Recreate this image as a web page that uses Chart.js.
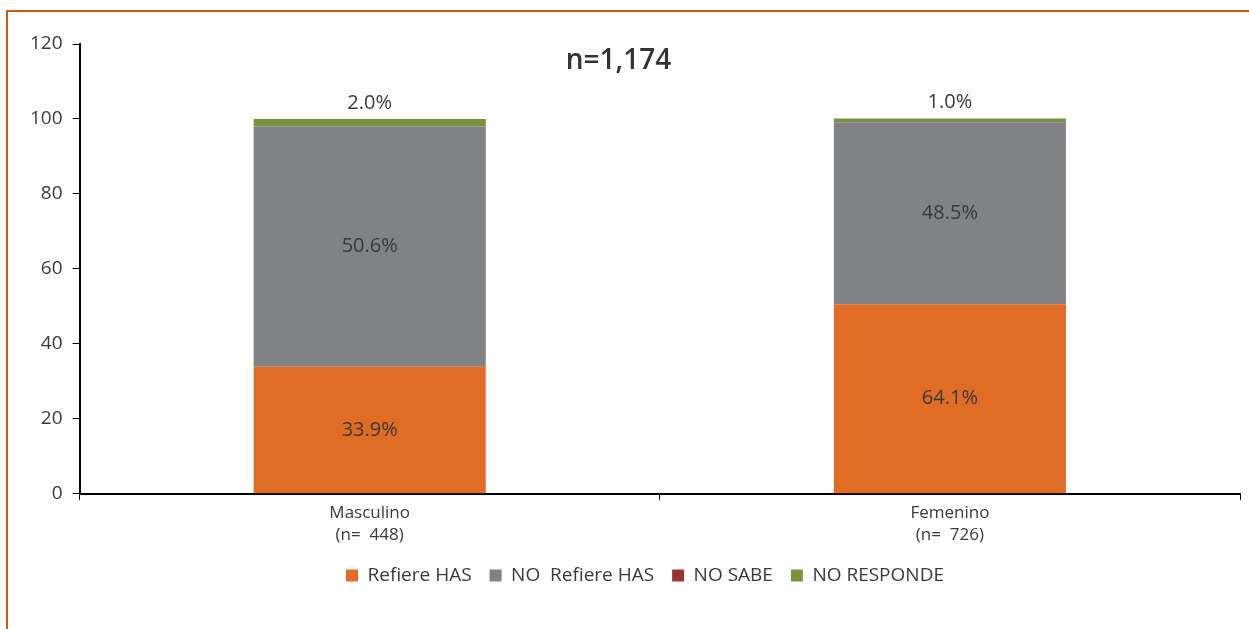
<!DOCTYPE html>
<html>
<head>
<meta charset="utf-8">
<script src="https://cdn.jsdelivr.net/npm/chart.js@4"></script>
<style>
  body { margin: 0; background: #fff; }
  #frame { position: absolute; left: 6px; top: 10px; width: 1260px; height: 640px; border: 2px solid #b8621e; }
  #wrap { position: absolute; left: 0; top: 0; width: 1249px; height: 629px; }
</style>
</head>
<body>
<div id="frame"></div>
<div id="wrap"><canvas id="chart"></canvas></div>
<script>
//categories and series (bar heights)
const categories = [['Masculino', '(n=  448)'], ['Femenino', '(n=  726)']];
const seriesNames = ['Refiere HAS', 'NO  Refiere HAS', 'NO SABE', 'NO RESPONDE'];
const refiere = [33.9, 50.6];
const noRefiere = [64.1, 48.5];
const noSabe = [0, 0];
const noResponde = [2.0, 1.0];
//labels printed on the bars, as they appear in the original
const refiereLabels = ['33.9%', '64.1%'];
const noRefiereLabels = ['50.6%', '48.5%'];
const noSabeLabels = ['', ''];
const noRespondeLabels = ['2.0%', '1.0%'];
const yTicks = [0, 20, 40, 60, 80, 100, 120];
const colours = ['#e06c26', '#818285', '#963634', '#77933c'];

const fontFamily = '"Open Sans", "Noto Sans", sans-serif';
const textColour = '#3a3a3a';

const allValues = [refiere, noRefiere, noSabe, noResponde];
const allLabels = [refiereLabels, noRefiereLabels, noSabeLabels, noRespondeLabels];

//draws the percentage text inside each segment, last series goes above the bar
const barLabels = {
    id: 'barLabels',
    afterDatasetsDraw(chart) {
        const ctx = chart.ctx;
        ctx.save();
        ctx.font = '20px ' + fontFamily;
        ctx.fillStyle = textColour;
        ctx.textAlign = 'center';
        ctx.textBaseline = 'middle';
        chart.data.datasets.forEach(function(ds, i) {
            const meta = chart.getDatasetMeta(i);
            meta.data.forEach(function(bar, j) {
                const text = allLabels[i][j];
                if (!text) return;
                if (i === allLabels.length - 1) {
                    ctx.fillText(text, bar.x, bar.y - 16);
                } else {
                    ctx.fillText(text, bar.x, (bar.y + bar.base) / 2);
                }
            });
        });
        ctx.restore();
    }
};

//title sits inside the plot area in the original
const insideTitle = {
    id: 'insideTitle',
    afterDraw(chart) {
        const ctx = chart.ctx;
        ctx.save();
        ctx.font = '600 28px ' + fontFamily;
        ctx.fillStyle = '#333';
        ctx.textAlign = 'center';
        ctx.textBaseline = 'middle';
        ctx.fillText('n=1,174', chart.width / 2 - 6, chart.chartArea.top + 17);
        ctx.restore();
    }
};

//legend in the original is centred a bit right of the middle
const legendShift = {
    id: 'legendShift',
    afterLayout(chart) {
        chart.legend.left += 30;
    }
};

new Chart(document.getElementById('chart').getContext('2d'), {
    type: 'bar',
    data: {
        labels: categories,
        datasets: seriesNames.map(function(name, i) {
            return {
                label: name,
                data: allValues[i],
                backgroundColor: colours[i],
                borderWidth: 0,
                categoryPercentage: 0.4,
                barPercentage: 1
            };
        })
    },
    options: {
        responsive: true,
        maintainAspectRatio: false,
        animation: false,
        layout: { padding: { left: 20, right: 9, top: 44, bottom: 34 } },
        plugins: {
            legend: {
                position: 'bottom',
                labels: {
                    boxWidth: 12,
                    boxHeight: 12,
                    padding: 18,
                    color: textColour,
                    font: { family: fontFamily, size: 19 }
                }
            },
            tooltip: { enabled: false },
            title: { display: false }
        },
        scales: {
            x: {
                stacked: true,
                grid: { drawOnChartArea: false, drawTicks: true, tickLength: 6, color: '#000' },
                border: { color: '#000', width: 2 },
                ticks: { color: textColour, font: { family: fontFamily, size: 17, lineHeight: 1.3 }, padding: 2 }
            },
            y: {
                stacked: true,
                min: 0,
                max: 120,
                afterBuildTicks: function(axis) {
                    axis.ticks = yTicks.map(function(v) { return { value: v }; });
                },
                grid: { drawOnChartArea: false, drawTicks: true, tickLength: 7, color: '#000' },
                border: { color: '#000', width: 2 },
                ticks: { color: textColour, font: { family: fontFamily, size: 19 }, padding: 10 }
            }
        }
    },
    plugins: [barLabels, insideTitle, legendShift]
});
</script>
</body>
</html>
